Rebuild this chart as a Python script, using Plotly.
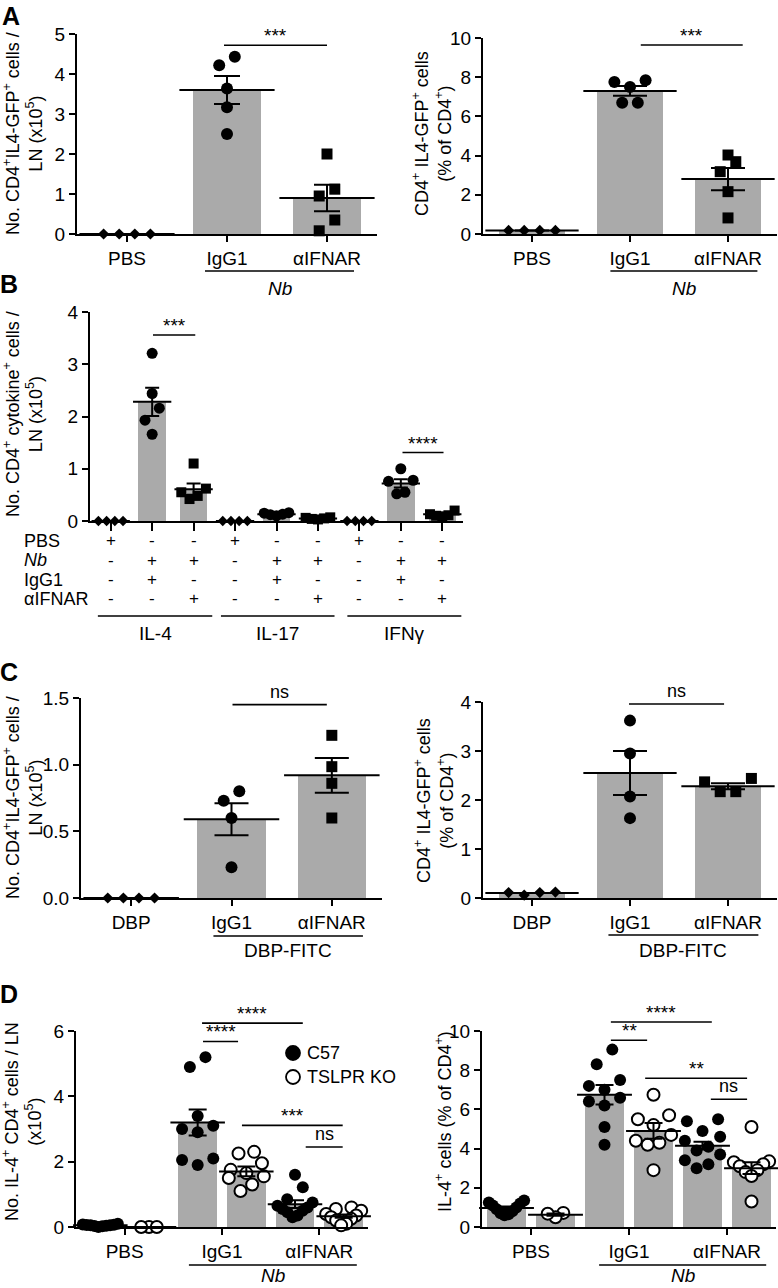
import plotly.graph_objects as go

W, H = 778, 1288
FONT = "Liberation Sans, Arial, Helvetica, sans-serif"
BAR = "#aaaaaa"
FS = 18
TFS = 19

# ---------------- data ----------------
# Panel A
A_labels = ["PBS", "IgG1", "αIFNAR"]
A_symbols = ["diamond", "circle", "square"]
A1_points = [[0, 0, 0, 0], [4.43, 4.22, 3.64, 3.17, 2.5], [2.0, 1.12, 0.95, 0.35, 0.08]]
A1_mean = [0, 3.6, 0.9]
A1_sem = [0, 0.35, 0.33]
A1_yticks = [0, 1, 2, 3, 4, 5]

A2_points = [[0.18, 0.18, 0.18, 0.18], [7.75, 7.5, 7.85, 6.7, 6.7], [4.03, 3.69, 3.18, 2.16, 0.82]]
A2_mean = [0.18, 7.3, 2.8]
A2_sem = [0, 0.25, 0.57]
A2_yticks = [0, 2, 4, 6, 8, 10]

# Panel B
B_cytokines = ["IL-4", "IL-17", "IFNγ"]
B_row_labels = ["PBS", "<i>Nb</i>", "IgG1", "αIFNAR"]
B_row_signs = [["+", "-", "-"], ["-", "+", "+"], ["-", "+", "-"], ["-", "-", "+"]]
B_symbols = ["diamond", "circle", "square"] * 3
B_points = [[0, 0, 0, 0], [3.21, 2.44, 2.16, 1.93, 1.66], [1.1, 0.62, 0.55, 0.48, 0.42],
            [0, 0, 0, 0], [0.16, 0.15, 0.13, 0.12, 0.1], [0.07, 0.06, 0.05, 0.04, 0.03],
            [0, 0, 0, 0], [1.0, 0.78, 0.76, 0.55, 0.52], [0.2, 0.13, 0.11, 0.1, 0.09]]
B_mean = [0, 2.28, 0.61, 0, 0.13, 0.05, 0, 0.72, 0.13]
B_sem = [0, 0.27, 0.11, 0, 0.01, 0.01, 0, 0.08, 0.02]
B_yticks = [0, 1, 2, 3, 4]

# Panel C
C_labels = ["DBP", "IgG1", "αIFNAR"]
C_symbols = ["diamond", "circle", "square"]
C1_points = [[0, 0, 0, 0], [0.8, 0.73, 0.6, 0.23], [1.22, 0.985, 0.86, 0.6]]
C1_mean = [0, 0.59, 0.92]
C1_sem = [0, 0.12, 0.13]
C1_yticks = [0, 0.5, 1.0, 1.5]

C2_points = [[0.11, 0.06, 0.11, 0.12], [3.62, 2.95, 2.07, 1.63], [2.37, 2.17, 2.17, 2.44]]
C2_mean = [0.1, 2.55, 2.28]
C2_sem = [0, 0.45, 0.06]
C2_yticks = [0, 1, 2, 3, 4]

# Panel D
D_labels = ["PBS", "IgG1", "αIFNAR"]
D_strains = ["C57", "TSLPR KO"]
D1_points = [[0.1, 0.08, 0.07, 0.06, 0.05, 0.05, 0.04, 0.03, 0.02, 0.0],
             [0, 0, 0],
             [5.2, 4.9, 3.4, 3.1, 3.0, 2.9, 2.1, 2.05, 1.9],
             [2.3, 2.25, 1.95, 1.75, 1.65, 1.55, 1.5, 1.3, 1.1],
             [1.6, 1.22, 0.85, 0.75, 0.65, 0.6, 0.55, 0.5, 0.45, 0.35, 0.3],
             [0.6, 0.55, 0.5, 0.4, 0.35, 0.3, 0.25, 0.2, 0.1, 0.05]]
D1_mean = [0.05, 0, 3.2, 1.7, 0.7, 0.33]
D1_sem = [0.01, 0, 0.4, 0.15, 0.12, 0.05]
D1_yticks = [0, 2, 4, 6]

D2_points = [[1.35, 1.25, 1.2, 1.1, 1.0, 0.9, 0.8, 0.7, 0.65, 0.6],
             [0.72, 0.5, 0.68],
             [9.05, 8.3, 7.5, 7.2, 7.0, 6.6, 6.4, 6.2, 5.1, 4.2],
             [6.75, 5.7, 5.5, 5.2, 4.7, 4.4, 4.3, 4.2, 2.9],
             [5.5, 5.4, 4.9, 4.6, 4.4, 4.1, 3.9, 3.7, 3.4, 3.2, 3.0],
             [5.1, 3.35, 3.3, 3.2, 3.1, 2.9, 2.8, 2.6, 1.3]]
D2_mean = [0.97, 0.63, 6.75, 4.9, 4.15, 3.0]
D2_sem = [0.08, 0.06, 0.5, 0.4, 0.2, 0.3]
D2_yticks = [0, 2, 4, 6, 8, 10]

# ---------------- layout geometry (pixels) ----------------
GEOM = {
    1: dict(x=(77, 377), y=(34, 234), yr=(0, 5), n=3),
    2: dict(x=(483, 777), y=(38, 234), yr=(0, 10), n=3),
    3: dict(x=(90, 463), y=(312, 521), yr=(0, 4), n=9),
    4: dict(x=(81, 382), y=(698, 898), yr=(0, 1.5), n=3),
    5: dict(x=(483, 777), y=(702, 898), yr=(0, 4), n=3),
    6: dict(x=(76, 368), y=(1031, 1227), yr=(0, 6), n=6),
    7: dict(x=(482, 776), y=(1031, 1227), yr=(0, 10), n=6),
}

fig = go.Figure()
shapes, annots = [], []


def sfx(k):
    return "" if k == 1 else str(k)


def fy(py):
    return 1 - py / H


def fx(px):
    return px / W


def val2paper(k, v):
    g = GEOM[k]
    y0, y1 = g["yr"]
    top, bot = g["y"]
    py = bot - (v - y0) / (y1 - y0) * (bot - top)
    return fy(py)


def swarm(vals, ppu, diam, maxw, flat):
    order = sorted(range(len(vals)), key=lambda i: vals[i])
    rows = []
    for i in order:
        y = vals[i] * ppu
        if rows and y - rows[-1][0] < 1.25 * diam:
            rows[-1][1].append(i)
            rows[-1][2] = y
        else:
            rows.append([y, [i], y])
    offs = [0.0] * len(vals)
    for y0, idx, y1 in rows:
        n = len(idx)
        step = 1.3 * diam
        if n > 2 and (y1 - y0) < 0.5 * diam:
            step = flat * diam
        if n > 1:
            step = min(step, maxw / (n - 1))
        pos = [(j - (n - 1) / 2) * step for j in range(n)]
        pos.sort(key=lambda p: (abs(p), p))
        for p, i in zip(pos, idx):
            offs[i] = p
    return offs


def add_panel(k, points, means, sems, symbols, fills, diam, barw, capw, flat=1.3):
    g = GEOM[k]
    n = g["n"]
    ppc = (g["x"][1] - g["x"][0]) / n
    ppu = (g["y"][1] - g["y"][0]) / (g["yr"][1] - g["yr"][0])
    xa, ya = "x" + sfx(k), "y" + sfx(k)
    fig.add_trace(go.Bar(x=list(range(n)), y=means, width=barw, marker=dict(color=BAR, line=dict(width=0)),
                         xaxis=xa, yaxis=ya, showlegend=False, hoverinfo="skip"))
    for i in range(n):
        offs = swarm(points[i], ppu, diam, barw * ppc * 0.9, flat)
        sym = symbols[i]
        size = diam if sym == "circle" else (diam - 1 if sym == "square" else diam * 0.72)
        if fills[i] == "white":
            mk = dict(symbol=sym, size=size, color="white", line=dict(color="black", width=2))
        else:
            mk = dict(symbol=sym, size=size, color="black", line=dict(width=0))
        fig.add_trace(go.Scatter(x=[i + o / ppc for o in offs], y=points[i], mode="markers", marker=mk,
                                 xaxis=xa, yaxis=ya, cliponaxis=False, showlegend=False, hoverinfo="skip"))
    fig.add_trace(go.Scatter(x=list(range(n)), y=means, mode="markers",
                             marker=dict(symbol="line-ew", size=barw * ppc, line=dict(width=2, color="black")),
                             error_y=dict(type="data", array=sems, visible=True, color="black", thickness=2, width=capw),
                             xaxis=xa, yaxis=ya, cliponaxis=False, showlegend=False, hoverinfo="skip"))


def set_axes(k, yticks, ytext, xtickvals, xticktext, xticklen=6, showxl=True):
    g = GEOM[k]
    s = sfx(k)
    common = dict(showline=True, linewidth=2, linecolor="black", ticks="outside", tickwidth=2,
                  tickcolor="black", showgrid=False, zeroline=False, automargin=False,
                  tickfont=dict(family=FONT, size=TFS, color="black"))
    fig.layout["xaxis" + s] = dict(domain=[fx(g["x"][0]), fx(g["x"][1])], anchor="y" + s,
                                   range=[-0.5, g["n"] - 0.5], tickmode="array", tickvals=xtickvals,
                                   ticktext=xticktext, ticklen=xticklen, showticklabels=showxl, **common)
    fig.layout["yaxis" + s] = dict(domain=[fy(g["y"][1]), fy(g["y"][0])], anchor="x" + s,
                                   range=list(g["yr"]), tickmode="array", tickvals=yticks, ticktext=ytext,
                                   ticklen=6, **common)


def sig(k, xa, xb, yv, text):
    p = val2paper(k, yv)
    shapes.append(dict(type="line", xref="x" + sfx(k), yref="paper", x0=xa, x1=xb, y0=p, y1=p,
                       line=dict(color="black", width=1.6)))
    star = "*" in text
    annots.append(dict(xref="x" + sfx(k), yref="paper", x=(xa + xb) / 2, y=p, yanchor="bottom",
                       yshift=-3 if star else 1, text=text, showarrow=False,
                       font=dict(family=FONT, size=19 if star else FS, color="black")))


def group_line(k, xa, xb, py, text, ty, anchor="middle"):
    shapes.append(dict(type="line", xref="x" + sfx(k), yref="paper", x0=xa, x1=xb, y0=fy(py), y1=fy(py),
                       line=dict(color="black", width=1.6)))
    annots.append(dict(xref="x" + sfx(k), yref="paper", x=(xa + xb) / 2, y=fy(ty), yanchor=anchor,
                       text=text, showarrow=False, font=dict(family=FONT, size=TFS, color="black")))


def text_px(x, y, text, size=FS, angle=0, xanchor="center", yanchor="middle"):
    annots.append(dict(xref="paper", yref="paper", x=fx(x), y=fy(y), text=text, showarrow=False,
                       textangle=angle, xanchor=xanchor, yanchor=yanchor,
                       font=dict(family=FONT, size=size, color="black")))


# ---------------- panels ----------------
black3 = ["black"] * 3
add_panel(1, A1_points, A1_mean, A1_sem, A_symbols, black3, 12, 0.68, 13)
set_axes(1, A1_yticks, [str(v) for v in A1_yticks], [0, 1, 2], A_labels)
add_panel(2, A2_points, A2_mean, A2_sem, A_symbols, black3, 12, 0.68, 17)
set_axes(2, A2_yticks, [str(v) for v in A2_yticks], [0, 1, 2], A_labels)

add_panel(3, B_points, B_mean, B_sem, B_symbols, ["black"] * 9, 11, 0.66, 7)
set_axes(3, B_yticks, [str(v) for v in B_yticks], list(range(9)), [""] * 9, xticklen=8, showxl=False)

add_panel(4, C1_points, C1_mean, C1_sem, C_symbols, black3, 12, 0.68, 17)
set_axes(4, C1_yticks, ["%.1f" % v for v in C1_yticks], [0, 1, 2], C_labels)
add_panel(5, C2_points, C2_mean, C2_sem, C_symbols, black3, 12, 0.68, 17)
set_axes(5, C2_yticks, [str(v) for v in C2_yticks], [0, 1, 2], C_labels)

D_fills = ["black", "white"] * 3
D_syms = ["circle"] * 6
add_panel(6, D1_points, D1_mean, D1_sem, D_syms, D_fills, 12, 0.8, 9, flat=0.65)
set_axes(6, D1_yticks, [str(v) for v in D1_yticks], [0.5, 2.5, 4.5], D_labels)
add_panel(7, D2_points, D2_mean, D2_sem, D_syms, D_fills, 12, 0.8, 9, flat=0.65)
set_axes(7, D2_yticks, [str(v) for v in D2_yticks], [0.5, 2.5, 4.5], D_labels)

# significance bars
sig(1, 0.97, 2.0, 4.72, "***")
sig(2, 1.11, 2.15, 9.64, "***")
sig(3, 1.02, 2.04, 3.56, "***")
sig(3, 7.04, 8.03, 1.31, "****")
sig(4, 1.01, 1.95, 1.45, "ns")
sig(5, 0.99, 1.96, 3.96, "ns")
sig(6, 2.09, 4.16, 6.24, "****")
sig(6, 2.11, 2.83, 5.68, "****")
sig(6, 2.91, 4.98, 3.11, "***")
sig(6, 4.22, 4.98, 2.45, "ns")
sig(7, 2.13, 4.19, 10.46, "****")
sig(7, 2.13, 2.87, 9.53, "**")
sig(7, 2.83, 4.91, 7.59, "**")
sig(7, 4.17, 4.91, 6.52, "ns")

# group lines under axes
group_line(1, 0.78, 2.27, 271, "<i>Nb</i>", 289)
group_line(2, 0.80, 2.30, 271, "<i>Nb</i>", 289)
group_line(4, 0.82, 2.31, 936, "DBP-FITC", 950)
group_line(5, 0.78, 2.31, 935, "DBP-FITC", 950)
group_line(6, 1.82, 5.27, 1265, "<i>Nb</i>", 1288, anchor="bottom")
group_line(7, 1.89, 5.30, 1265, "<i>Nb</i>", 1288, anchor="bottom")
B_spans = [(-0.31, 2.45), (2.66, 5.40), (5.71, 8.46)]
for (a, b), name in zip(B_spans, B_cytokines):
    group_line(3, a, b, 616, name, 633)

# panel B sign table
B_row_y = [541, 560.3, 579.6, 598.9]
for r, (lab, py) in enumerate(zip(B_row_labels, B_row_y)):
    text_px(22, py, lab, size=18, xanchor="left")
    for c in range(9):
        annots.append(dict(xref="x3", yref="paper", x=c, y=fy(py), text=B_row_signs[r][c % 3],
                           showarrow=False, yanchor="middle",
                           font=dict(family=FONT, size=17, color="black")))

# y-axis titles
text_px(23, 134, "No. CD4<sup>+</sup>IL4-GFP<sup>+</sup> cells /<br>LN (x10<sup>5</sup>)", angle=-90)
text_px(432, 134, "CD4<sup>+</sup> IL4-GFP<sup>+</sup> cells<br>(% of CD4<sup>+</sup>)", angle=-90)
text_px(23, 414, "No. CD4<sup>+</sup> cytokine<sup>+</sup> cells /<br>LN (x10<sup>5</sup>)", angle=-90)
text_px(23, 798, "No. CD4<sup>+</sup>IL4-GFP<sup>+</sup> cells /<br>LN (x10<sup>5</sup>)", angle=-90)
text_px(434, 800, "CD4<sup>+</sup> IL4-GFP<sup>+</sup> cells<br>(% of CD4<sup>+</sup>)", angle=-90)
text_px(22, 1122, "No. IL-4<sup>+</sup> CD4<sup>+</sup> cells / LN<br>(x10<sup>5</sup>)", angle=-90)
text_px(443, 1122, "IL-4<sup>+</sup> cells (% of CD4<sup>+</sup>)", angle=-90)

# panel letters
text_px(11, 0, "<b>A</b>", size=25, yanchor="top")
for letter, (x, y) in zip("BCD", [(9, 284), (9, 672), (9, 994)]):
    text_px(x, y, "<b>%s</b>" % letter, size=25)

# legend for panel D
for (py, fill), name in zip([(1053, "black"), (1077, "white")], D_strains):
    shapes.append(dict(type="circle", xref="paper", yref="paper", xsizemode="pixel", ysizemode="pixel",
                       xanchor=fx(293), yanchor=fy(py), x0=-7, x1=7, y0=-7, y1=7,
                       fillcolor=fill, line=dict(color="black", width=1.8)))
    text_px(305, py, name, xanchor="left")

fig.update_layout(template="none", width=W, height=H, margin=dict(l=0, r=0, t=0, b=0, pad=0),
                  autosize=False, paper_bgcolor="white", plot_bgcolor="white", showlegend=False,
                  bargap=0, shapes=shapes, annotations=annots,
                  font=dict(family=FONT, size=FS, color="black"))
fig.write_html("out.html", config={"displayModeBar": False},
               post_script="document.body.style.margin='0px';document.body.style.padding='0px';")
